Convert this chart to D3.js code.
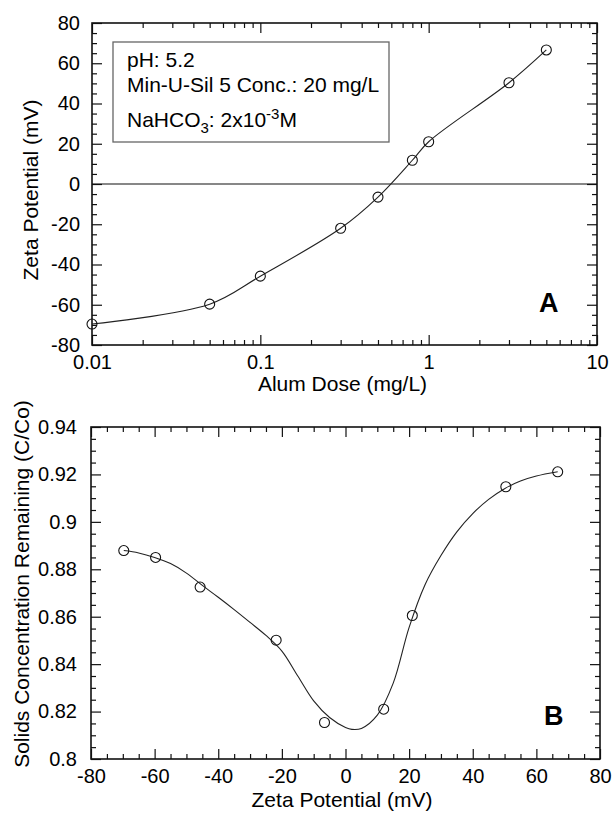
<!DOCTYPE html>
<html>
<head>
<meta charset="utf-8">
<script src="https://cdn.jsdelivr.net/npm/d3@7"></script>
<style>
  html, body { margin: 0; padding: 0; background: #fff; }
  svg { display: block; font-family: "Liberation Sans", Arial, Helvetica, sans-serif; }
</style>
</head>
<body>
<svg id="chart" width="614" height="816"></svg>
<script>
// ---------- Data ----------
// Panel A: zeta potential vs alum dose
const alumDose = [0.01, 0.05, 0.1, 0.3, 0.5, 0.8, 1, 3, 5];
const zetaA    = [-69.6, -59.7, -45.8, -22, -6.5, 11.8, 21, 50.3, 66.6];

// Panel B: solids remaining vs zeta potential
const zetaB   = [-69.7, -59.7, -45.7, -21.8, -6.6, 12, 21, 50.4, 66.7];
const solidsB = [0.8879, 0.8850, 0.8725, 0.8501, 0.8154, 0.8210, 0.8605, 0.9148, 0.9211];

// Panel B fitted smooth curve
const fitZeta   = [-69.7, -65, -60, -55, -50, -45, -40, -35, -30, -25, -20, -15, -10, -5, 0, 2, 5, 10, 15, 20, 25, 30, 35, 40, 45, 50, 55, 60, 66.7];
const fitSolids = [0.8879, 0.8869, 0.8850, 0.8824, 0.8784, 0.8732, 0.8682, 0.8630, 0.8576, 0.8521, 0.8455, 0.8350, 0.8245, 0.8175, 0.8133, 0.8125, 0.8129, 0.8185, 0.8320, 0.8555, 0.8735, 0.8858, 0.8958, 0.9035, 0.9095, 0.9140, 0.9172, 0.9193, 0.9211];

// Tick values / labels
const aXMajor = [0.01, 0.1, 1, 10];
const aXLabels = ["0.01", "0.1", "1", "10"];
const aYMajor = [-80, -60, -40, -20, 0, 20, 40, 60, 80];
const bXMajor = [-80, -60, -40, -20, 0, 20, 40, 60, 80];
const bYMajor = [0.8, 0.82, 0.84, 0.86, 0.88, 0.9, 0.92, 0.94];
const bYLabels = ["0.8", "0.82", "0.84", "0.86", "0.88", "0.9", "0.92", "0.94"];

// Text
const legendLines = ["pH: 5.2", "Min-U-Sil 5 Conc.: 20 mg/L"];

// ---------- Drawing ----------
const svg = d3.select("#chart");
svg.append("rect").attr("width", 614).attr("height", 816).attr("fill", "#fff");

const MAJ = 10, MIN = 5;
const tickFont = 20, titleFont = 21;
const plain = d => String(d);   // hyphen-minus, as in the original

function styleAxis(g) {
  g.select(".domain").remove();
  g.selectAll("line").attr("stroke", "#111").attr("stroke-width", 1.2);
  g.selectAll("text").attr("font-size", tickFont).attr("fill", "#000")
    .attr("font-family", "'Liberation Sans', Arial, sans-serif");
}

function frame(x0, x1, y0, y1) {
  svg.append("rect").attr("x", x0).attr("y", y0)
    .attr("width", x1 - x0).attr("height", y1 - y0)
    .attr("fill", "none").attr("stroke", "#111").attr("stroke-width", 1.6);
}

// ===== Panel A =====
{
  const L = 92, R = 597, T = 23, B = 345;
  const x = d3.scaleLog().domain([0.01, 10]).range([L, R]);
  const y = d3.scaleLinear().domain([-80, 80]).range([B, T]);

  const minorX = [];
  [0.01, 0.1, 1].forEach(d => { for (let k = 2; k <= 9; k++) minorX.push(d * k); });
  const minorY = d3.range(-80, 80.01, 5).filter(v => v % 20 !== 0);

  svg.append("g").attr("transform", `translate(0,${B})`)
    .call(d3.axisBottom(x).tickValues(aXMajor).tickSize(-MAJ).tickPadding(10)
      .tickFormat((d, i) => aXLabels[i]))
    .call(styleAxis);
  svg.append("g").attr("transform", `translate(0,${B})`)
    .call(d3.axisBottom(x).tickValues(minorX).tickSize(-MIN).tickFormat(""))
    .call(styleAxis);
  svg.append("g").attr("transform", `translate(0,${T})`)
    .call(d3.axisTop(x).tickValues(aXMajor).tickSize(-MAJ).tickFormat(""))
    .call(styleAxis);
  svg.append("g").attr("transform", `translate(0,${T})`)
    .call(d3.axisTop(x).tickValues(minorX).tickSize(-MIN).tickFormat(""))
    .call(styleAxis);
  svg.append("g").attr("transform", `translate(${L},0)`)
    .call(d3.axisLeft(y).tickValues(aYMajor).tickSize(-MAJ).tickPadding(12).tickFormat(plain))
    .call(styleAxis);
  svg.append("g").attr("transform", `translate(${L},0)`)
    .call(d3.axisLeft(y).tickValues(minorY).tickSize(-MIN).tickFormat(""))
    .call(styleAxis);
  svg.append("g").attr("transform", `translate(${R},0)`)
    .call(d3.axisRight(y).tickValues(aYMajor).tickSize(-MAJ).tickFormat(""))
    .call(styleAxis);
  svg.append("g").attr("transform", `translate(${R},0)`)
    .call(d3.axisRight(y).tickValues(minorY).tickSize(-MIN).tickFormat(""))
    .call(styleAxis);

  svg.append("line").attr("x1", L).attr("x2", R).attr("y1", y(0)).attr("y2", y(0))
    .attr("stroke", "#111").attr("stroke-width", 1.2);

  frame(L, R, T, B);

  const pts = alumDose.map((d, i) => [d, zetaA[i]]);
  svg.append("path").datum(pts)
    .attr("d", d3.line().x(d => x(d[0])).y(d => y(d[1])).curve(d3.curveCatmullRom.alpha(0.5)))
    .attr("fill", "none").attr("stroke", "#222").attr("stroke-width", 1.1);
  svg.append("g").selectAll("circle").data(pts).join("circle")
    .attr("cx", d => x(d[0])).attr("cy", d => y(d[1])).attr("r", 5)
    .attr("fill", "none").attr("stroke", "#111").attr("stroke-width", 1.1);

  svg.append("rect").attr("x", 113).attr("y", 42).attr("width", 276).attr("height", 100)
    .attr("fill", "none").attr("stroke", "#666").attr("stroke-width", 1.3);
  svg.append("text").attr("x", 127).attr("y", 67).attr("font-size", 21).text(legendLines[0]);
  svg.append("text").attr("x", 127).attr("y", 92).attr("font-size", 21).text(legendLines[1]);
  const t3 = svg.append("text").attr("x", 127).attr("y", 127).attr("font-size", 21);
  t3.append("tspan").text("NaHCO");
  t3.append("tspan").attr("font-size", 15).attr("dy", 6).text("3");
  t3.append("tspan").attr("dy", -6).text(": 2x10");
  t3.append("tspan").attr("font-size", 15).attr("dy", -8).text("-3");
  t3.append("tspan").attr("dy", 8).text("M");

  svg.append("text").attr("x", 539).attr("y", 312).attr("font-size", 27)
    .attr("font-weight", "bold").text("A");

  svg.append("text").attr("x", (L + R) / 2 - 2).attr("y", 391)
    .attr("text-anchor", "middle").attr("font-size", titleFont).text("Alum Dose (mg/L)");
  svg.append("text").attr("transform", `translate(38,${(T + B) / 2 + 6}) rotate(-90)`)
    .attr("text-anchor", "middle").attr("font-size", titleFont).text("Zeta Potential (mV)");
}

// ===== Panel B =====
{
  const L = 91, R = 600, T = 427, B = 759;
  const x = d3.scaleLinear().domain([-80, 80]).range([L, R]);
  const y = d3.scaleLinear().domain([0.8, 0.94]).range([B, T]);

  const minorX = d3.range(-80, 80.01, 5).filter(v => v % 20 !== 0);
  const minorY = d3.range(0, 29).map(i => 0.8 + i * 0.005)
    .filter(v => Math.abs(Math.round(v * 50) - v * 50) > 1e-6);

  svg.append("g").attr("transform", `translate(0,${B})`)
    .call(d3.axisBottom(x).tickValues(bXMajor).tickSize(-MAJ).tickPadding(10).tickFormat(plain))
    .call(styleAxis);
  svg.append("g").attr("transform", `translate(0,${B})`)
    .call(d3.axisBottom(x).tickValues(minorX).tickSize(-MIN).tickFormat(""))
    .call(styleAxis);
  svg.append("g").attr("transform", `translate(0,${T})`)
    .call(d3.axisTop(x).tickValues(bXMajor).tickSize(-MAJ).tickFormat(""))
    .call(styleAxis);
  svg.append("g").attr("transform", `translate(0,${T})`)
    .call(d3.axisTop(x).tickValues(minorX).tickSize(-MIN).tickFormat(""))
    .call(styleAxis);
  svg.append("g").attr("transform", `translate(${L},0)`)
    .call(d3.axisLeft(y).tickValues(bYMajor).tickSize(-MAJ).tickPadding(14)
      .tickFormat((d, i) => bYLabels[i]))
    .call(styleAxis);
  svg.append("g").attr("transform", `translate(${L},0)`)
    .call(d3.axisLeft(y).tickValues(minorY).tickSize(-MIN).tickFormat(""))
    .call(styleAxis);
  svg.append("g").attr("transform", `translate(${R},0)`)
    .call(d3.axisRight(y).tickValues(bYMajor).tickSize(-MAJ).tickFormat(""))
    .call(styleAxis);
  svg.append("g").attr("transform", `translate(${R},0)`)
    .call(d3.axisRight(y).tickValues(minorY).tickSize(-MIN).tickFormat(""))
    .call(styleAxis);

  frame(L, R, T, B);

  const fit = fitZeta.map((d, i) => [d, fitSolids[i]]);
  svg.append("path").datum(fit)
    .attr("d", d3.line().x(d => x(d[0])).y(d => y(d[1])).curve(d3.curveCatmullRom))
    .attr("fill", "none").attr("stroke", "#222").attr("stroke-width", 1.1);

  const pts = zetaB.map((d, i) => [d, solidsB[i]]);
  svg.append("g").selectAll("circle").data(pts).join("circle")
    .attr("cx", d => x(d[0])).attr("cy", d => y(d[1])).attr("r", 5)
    .attr("fill", "none").attr("stroke", "#111").attr("stroke-width", 1.1);

  svg.append("text").attr("x", 544).attr("y", 725).attr("font-size", 27)
    .attr("font-weight", "bold").text("B");

  svg.append("text").attr("x", 342).attr("y", 807)
    .attr("text-anchor", "middle").attr("font-size", titleFont).text("Zeta Potential (mV)");
  svg.append("text").attr("transform", `translate(29,584) rotate(-90)`)
    .attr("text-anchor", "middle").attr("font-size", titleFont)
    .text("Solids Concentration Remaining (C/Co)");
}
</script>
</body>
</html>
